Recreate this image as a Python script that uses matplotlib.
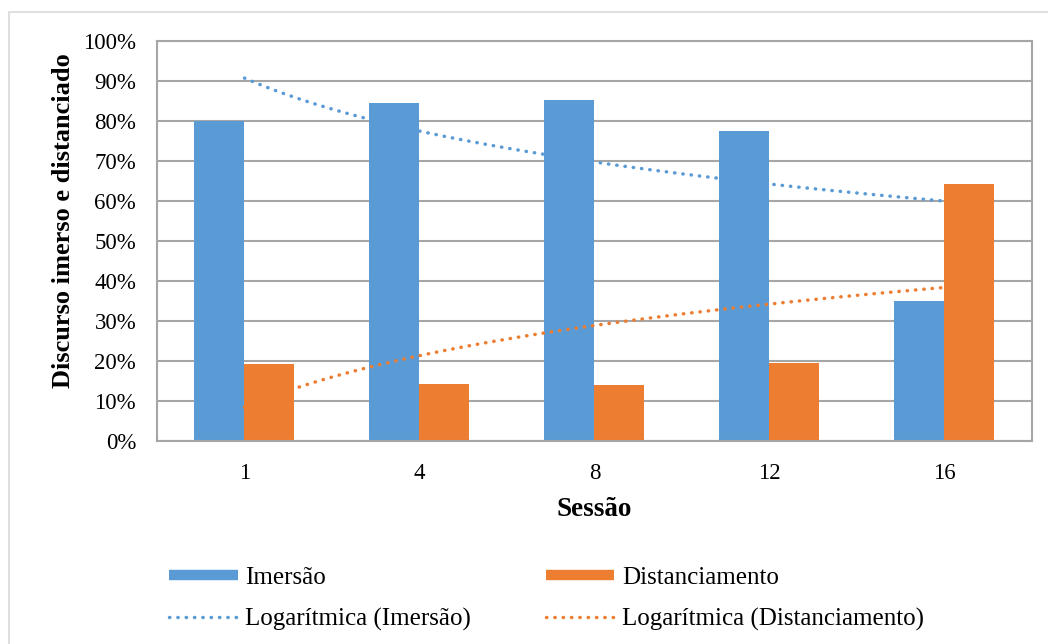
import numpy as np
import matplotlib.pyplot as plt
from matplotlib.lines import Line2D
from matplotlib.patches import Rectangle

sessions = ["1", "4", "8", "12", "16"]
imersao = [80.0, 84.5, 85.2, 77.5, 35.0]
distanciamento = [19.2, 14.3, 14.1, 19.4, 64.3]

blue = "#5B9BD5"
orange = "#ED7D31"
grid_gray = "#A6A6A6"

plt.rcParams["font.family"] = ["Liberation Serif", "DejaVu Serif"]

fig = plt.figure(figsize=(10.48, 6.44), dpi=100)
ax = fig.add_axes([0.1498, 0.3152, 0.8349, 0.6211])

# chart area frame (only top/left edges fall inside the canvas)
fig.patches.append(Rectangle((9 / 1048, -0.1), 1.2, 1 - 12 / 644 + 0.1,
                             transform=fig.transFigure, fill=False,
                             edgecolor="#D9D9D9", linewidth=1.2))

x = np.arange(len(sessions))
w = 1 / 3.5
ax.bar(x - w / 2, imersao, w, color=blue, zorder=2)
ax.bar(x + w / 2, distanciamento, w, color=orange, zorder=2)

# logarithmic trend lines, y = a*ln(k) + b over the category index k = 1..5
k = np.arange(1, len(sessions) + 1)
kk = np.linspace(1, len(sessions), 200)
dots = (0, (0.1, 2.3))
for vals, col in [(imersao, blue), (distanciamento, orange)]:
    a, b = np.polyfit(np.log(k), vals, 1)
    ax.plot(kk - 1, a * np.log(kk) + b, color=col, lw=2.5,
            linestyle=dots, dash_capstyle="round", zorder=3)

ax.set_xlim(-0.5, len(sessions) - 0.5)
ax.set_ylim(0, 100)
ax.set_yticks(np.arange(0, 101, 10))
ax.set_yticklabels([f"{v}%" for v in range(0, 101, 10)])
ax.set_xticks(x)
ax.set_xticklabels(sessions)
ax.tick_params(axis="both", length=0, labelsize=16.5, colors="black")
ax.tick_params(axis="x", pad=16)
ax.tick_params(axis="y", pad=15)
ax.grid(axis="y", color=grid_gray, linewidth=1.5, zorder=0)
for s in ax.spines.values():
    s.set_color(grid_gray)
    s.set_linewidth(1.5)

ax.set_xlabel("Sessão", fontsize=19.5, fontweight="bold", labelpad=9)
ax.set_ylabel("Discurso imerso e distanciado", fontsize=19, fontweight="bold")
ax.yaxis.set_label_coords(-0.094, 0.55)

handles = [
    Line2D([], [], color=blue, lw=7.5, solid_capstyle="butt"),
    Line2D([], [], color=blue, lw=2.5, linestyle=dots, dash_capstyle="round"),
    Line2D([], [], color=orange, lw=7.5, solid_capstyle="butt"),
    Line2D([], [], color=orange, lw=2.5, linestyle=dots, dash_capstyle="round"),
]
labels = ["Imersão", "Logarítmica (Imersão)",
          "Distanciamento", "Logarítmica (Distanciamento)"]
fig.legend(handles, labels, loc="center", bbox_to_anchor=(0.5214, 0.070),
           ncol=2, frameon=False, fontsize=18, handlelength=2.75,
           handletextpad=0.3, columnspacing=2.99, labelspacing=0.76)

fig.savefig("out.png", dpi=100)
